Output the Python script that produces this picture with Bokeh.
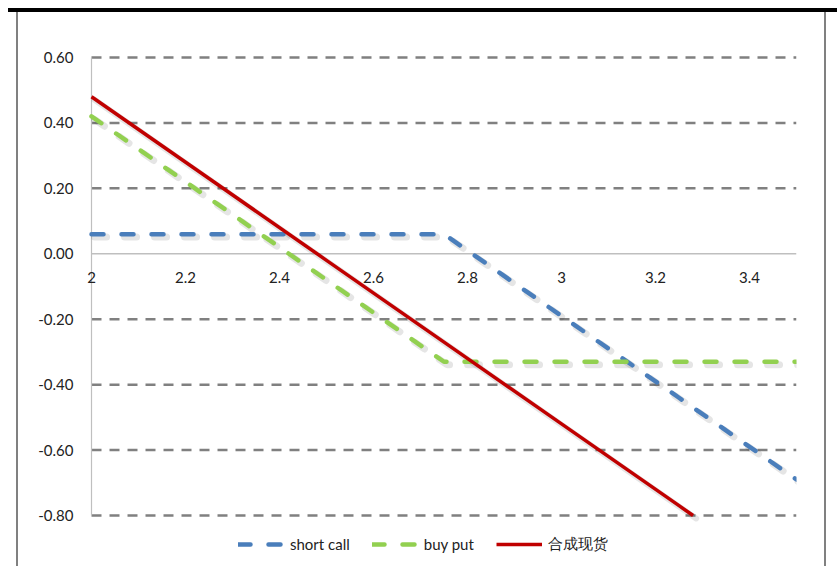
from bokeh.plotting import figure
from bokeh.models import (Range1d, FixedTicker, PrintfTickFormatter, Legend,
                          LegendItem, ColumnDataSource, LabelSet, InlineStyleSheet)
from bokeh.core.properties import value
from bokeh.embed import file_html
from bokeh.resources import INLINE
import numpy as np

# ---- data ----
price = [2.0, 2.25, 2.5, 2.75, 3.0, 3.25, 3.5]
short_call = [0.06, 0.06, 0.06, 0.06, -0.19, -0.44, -0.69]
buy_put = [0.42, 0.17, -0.08, -0.33, -0.33, -0.33, -0.33]
synth_price = [2.0, 2.25, 2.5, 2.75, 3.0, 3.25, 3.28]
synthetic = [0.48, 0.23, -0.02, -0.27, -0.52, -0.77, -0.80]
series_names = ["short call", "buy put", "合成现货"]
x_ticks = [2, 2.2, 2.4, 2.6, 2.8, 3, 3.2, 3.4]
x_tick_labels = ["2", "2.2", "2.4", "2.6", "2.8", "3", "3.2", "3.4"]
y_ticks = [0.6, 0.4, 0.2, 0.0, -0.2, -0.4, -0.6, -0.8]
y_min, y_max = -0.8, 0.6
x_min, x_max = 2.0, 3.5

FONT = "Lato"
W, H = 837, 566
RIGHT, BOTTOM = 41, 6
AXIS_LEFT_PX = 91            # pixel column of x = 2
AXIS_TOP_PX = 57             # pixel row of y = 0.6
AXIS_BOTTOM_PX = 515         # pixel row of y = -0.8
PAD_LEFT, PAD_TOP = 8, 6     # frame reaches a little past the axes so edge marks are not clipped
x_px_per_unit = (W - RIGHT - AXIS_LEFT_PX) / (x_max - x_min)
x_start = x_min - PAD_LEFT / x_px_per_unit
y_px_per_unit = (AXIS_BOTTOM_PX - AXIS_TOP_PX) / (y_max - y_min)
y_start = y_min - ((H - BOTTOM) - AXIS_BOTTOM_PX) / y_px_per_unit
y_end = y_max + PAD_TOP / y_px_per_unit

p = figure(width=W, height=H, output_backend="svg", toolbar_location=None,
           x_range=Range1d(x_start, x_max), y_range=Range1d(y_start, y_end),
           x_axis_location=None,
           min_border_left=AXIS_LEFT_PX - PAD_LEFT, min_border_right=RIGHT,
           min_border_top=AXIS_TOP_PX - PAD_TOP, min_border_bottom=BOTTOM)
p.outline_line_color = None
p.background_fill_color = "white"
p.border_fill_color = "white"

# y axis (labels only)
ya = p.yaxis[0]
ya.ticker = FixedTicker(ticks=y_ticks)
ya.formatter = PrintfTickFormatter(format="%.2f")
ya.axis_line_color = None
ya.major_tick_line_color = None
ya.minor_tick_line_color = None
ya.major_tick_out = 0
ya.major_tick_in = 0
ya.major_label_standoff = 18 - PAD_LEFT
ya.major_label_text_font = FONT
ya.major_label_text_font_size = "15px"
ya.major_label_text_color = "#222222"
p.xgrid.visible = False
p.ygrid.visible = False

# dashed horizontal gridlines from x=2 to 3.5 (none at zero; axis line there instead)
grid_y = [t for t in y_ticks if t != 0]
p.segment(x0=[x_min] * len(grid_y), y0=grid_y, x1=[x_max] * len(grid_y), y1=grid_y,
          line_color="#808080", line_width=2.5, line_dash="10 8")

# axis lines
p.segment(x0=[x_min, x_min], y0=[y_max, 0.0], x1=[x_min, x_max], y1=[y_min, 0.0],
          line_color="#bfbfbf", line_width=[1.2, 1.5])

# x tick labels along the zero line
lab_src = ColumnDataSource(dict(x=x_ticks, y=[0] * len(x_ticks), t=x_tick_labels))
p.add_layout(LabelSet(x="x", y="y", text="t", source=lab_src, text_align="center",
                      text_baseline="middle", y_offset=-24, text_font=value(FONT),
                      text_font_size=value("15px"), text_color="#222222"))

colors = ["#4a7ebb", "#92d050", "#c00000"]
dashes = ["12 18", "12 18", "solid"]
widths = [4.5, 4.5, 3.5]
xs = [price, price, synth_price]
ys = [short_call, buy_put, synthetic]

# soft drop shadows
for xv, yv, d, w in zip(xs, ys, dashes, widths):
    p.line(np.array(xv) + 0.0065, np.array(yv) - 0.009, line_color="black", line_alpha=0.10,
           line_width=w + 2.5, line_dash=d, line_cap="round")

renderers = []
for xv, yv, c, d, w in zip(xs, ys, colors, dashes, widths):
    r = p.line(xv, yv, line_color=c, line_width=w, line_dash=d,
               line_cap="round" if d != "solid" else "butt")
    renderers.append(r)

legend = Legend(items=[LegendItem(label=n, renderers=[r]) for n, r in zip(series_names, renderers)],
                orientation="horizontal", location=(147 + PAD_LEFT, 6),
                border_line_color=None, background_fill_alpha=0,
                glyph_width=46, glyph_height=18, label_standoff=6, spacing=22,
                label_text_font=FONT, label_text_font_size="15px",
                label_text_color="#222222", margin=0, padding=4)
p.add_layout(legend)

# page frame decoration (thick black rule on top, grey side borders)
p.stylesheets = [InlineStyleSheet(css="""
:host { position: relative; }
:host::before { content: ""; position: absolute; left: 8px; top: 8px; right: 0; height: 4px;
                background: #000; z-index: 10; pointer-events: none; }
:host::after { content: ""; position: absolute; left: 16px; top: 12px; width: 806px; bottom: 0;
               border-left: 2px solid #808080; border-right: 2px solid #808080;
               z-index: 10; pointer-events: none; }
""")]

open("out.html", "w").write(file_html(p, INLINE))
